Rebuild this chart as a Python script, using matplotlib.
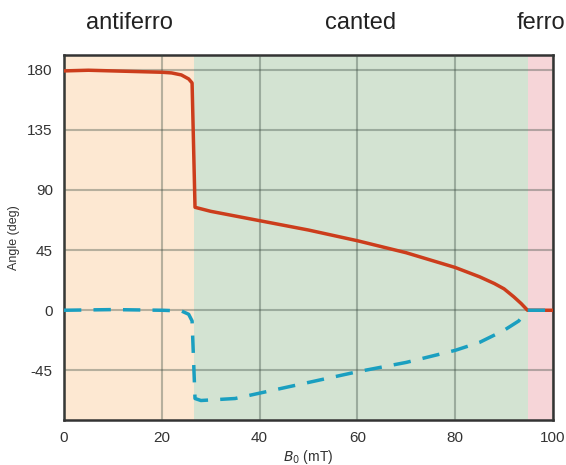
import matplotlib.pyplot as plt
import matplotlib.transforms as mtransforms

plt.rcParams['font.family'] = ['Liberation Sans', 'DejaVu Sans']
plt.rcParams['axes.unicode_minus'] = False

# field values (mT) and angles (deg)
b_red = [0, 5, 10, 15, 20, 22, 24, 25.5, 26.2, 26.8, 30, 40, 50, 60, 70, 80, 85, 88, 90, 92, 93.5, 94.8, 96, 100]
angle_red = [179, 179.5, 179, 178.5, 178, 177.5, 176, 173, 170, 77, 74, 67, 60, 52, 43, 32, 25, 20, 16, 10, 5, 0, 0, 0]

b_blue = [0, 10, 20, 24, 25.5, 26.2, 26.8, 28, 35, 40, 50, 60, 70, 80, 85, 90, 93, 94.8, 100]
angle_blue = [0, 0.5, 0, -0.5, -3, -8, -66, -67.5, -66, -62, -54, -46, -39, -30, -24, -15, -8, 0, 0]

phase_names = ['antiferro', 'canted', 'ferro']
phase_edges = [0, 26.5, 94.9, 100]
phase_colors = ['#fde8d2', '#d3e3d2', '#f6d5d8']
label_x = [13.3, 60.6, 92.5]
label_ha = ['center', 'center', 'left']

x_ticks = [0, 20, 40, 60, 80, 100]
y_ticks = [-45, 0, 45, 90, 135, 180]

fig = plt.figure(figsize=(5.66, 4.65), dpi=100)
ax = fig.add_axes([0.113, 0.097, 0.864, 0.785])

# phase names sit above the axes, x in data units, y in figure units
top_trans = mtransforms.blended_transform_factory(ax.transData, fig.transFigure)
for i in range(3):
    ax.axvspan(phase_edges[i], phase_edges[i + 1], color=phase_colors[i], lw=0, zorder=0)
    ax.text(label_x[i], 0.95, phase_names[i], transform=top_trans,
            ha=label_ha[i], va='center', fontsize=17, color='#222222', clip_on=False)

ax.grid(True, color='#3a4a40', alpha=0.36, lw=1.5, zorder=1)
ax.set_axisbelow(False)

ax.plot(b_red, angle_red, color='#cc3d1c', lw=2.5, zorder=3)
ax.plot(b_blue, angle_blue, color='#1a9fc0', lw=2.5, ls=(0, (5, 3.5)), zorder=3)

ax.set_xlim(0, 100)
ax.set_ylim(-82, 191)
ax.set_xticks(x_ticks)
ax.set_yticks(y_ticks)
ax.tick_params(length=0, labelsize=11, colors='#333333', pad=8)
for s in ax.spines.values():
    s.set_color('#333333')
    s.set_linewidth(1.8)
ax.set_xlabel('$B_0$ (mT)', fontsize=10, color='#333333', labelpad=2)
ax.set_ylabel('Angle (deg)', fontsize=9, color='#333333')
ax.yaxis.set_label_coords(-0.09, 0.5)

fig.savefig('out.png', dpi=100)
